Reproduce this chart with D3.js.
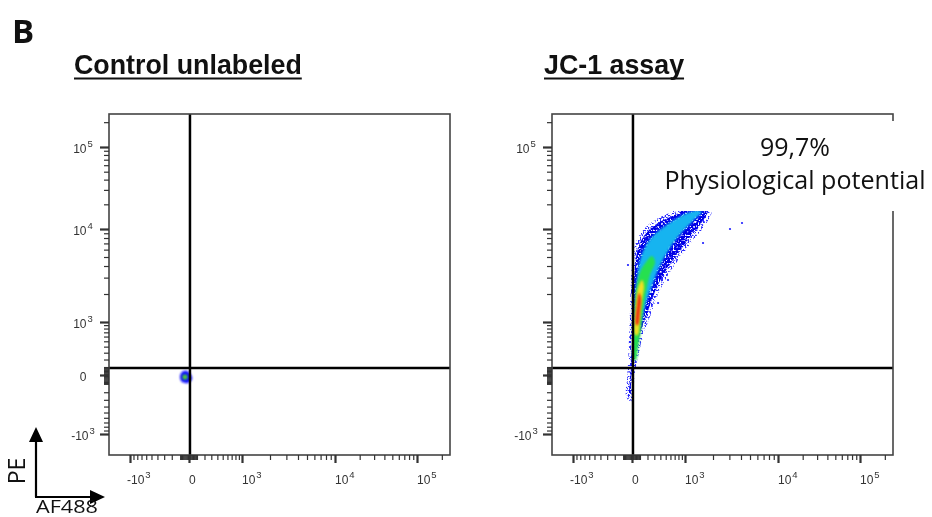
<!DOCTYPE html>
<html><head><meta charset="utf-8">
<script src="https://cdn.jsdelivr.net/npm/d3@7"></script>
<style>html,body{margin:0;padding:0;background:#fff;} svg{display:block;will-change:transform;}</style>
</head><body>
<svg id="chart" width="932" height="517"></svg>
<script>
// ---------------- DATA ----------------
const panelLetter = "B";
const panelTitles = ["Control unlabeled", "JC-1 assay"];
const xAxisName = "AF488";
const yAxisName = "PE";
const majorTickValues = [-1000, 0, 1000, 10000, 100000];
const majorTickBase   = ["-10", "0", "10", "10", "10"];
const majorTickExp    = ["3", "", "3", "4", "5"];
const linearMinorTicks = [10, 20, 30, 40, 50, 60, 70, 80, 90, 100, 200, 300, 400, 500, 600, 700, 800, 900];
const logMinorTicks = [2000, 3000, 4000, 5000, 6000, 7000, 8000, 9000,
                       20000, 30000, 40000, 50000, 60000, 70000, 80000, 90000, 200000];
const gateAF488 = 12;   // quadrant gate, x
const gatePE = 88;      // quadrant gate, y
const rightPanelYLabels = [-1000, 100000];
const annotationPct = "99,7%";
const annotationText = "Physiological potential";

// JC-1 population, density contours, [AF488, PE]
const jc1Sparse = [[-22,-331],[-68,-235],[-56,-56],[-45,127],[-34,528],[-22,1346],[-11,2829],[12,5250],
  [62,7620],[166,10280],[311,12880],[528,15240],[766,17540],[1132,22600],[1950,22600],[1950,16100],
  [1563,10280],[1219,7620],[909,5250],[665,3900],[488,2829],[394,2207],[295,1524],[235,1132],
  [166,766],[127,528],[88,311],[62,166],[38,38],[25,-113],[12,-275]];
const jc1Medium = [[12,62],[12,766],[25,2207],[62,4420],[140,6730],[264,9060],[449,11500],[714,14420],
  [1077,17060],[1449,18030],[1640,16100],[1312,12170],[1000,9060],[714,6730],[528,4880],[394,3450],
  [295,2320],[207,1524],[153,1052],[100,572],[62,264],[38,88]];
const jc1High = [[25,193],[25,1052],[50,2207],[100,3450],[180,4420],[264,5130],[311,4420],[235,3200],
  [180,2100],[140,1346],[114,766],[75,377],[50,193]];
const jc1Higher = [[38,641],[50,1524],[75,2320],[127,2829],[153,2440],[127,1726],[100,1104],[75,641]];
const jc1Peak = [[50,909],[62,1524],[88,2050],[114,1810],[100,1282],[75,909]];
const jc1Outliers = [[3047,10000],[4102,11830],[1563,7070],[547,2829],[-45,4100],[361,1600]];

// Control unlabeled population
const ctrlSparse = [[-102,-22],[-79,38],[-22,50],[25,0],[38,-45],[-11,-90],[-79,-79]];
const ctrlHigh = [[-68,0],[-22,0],[-22,-45],[-68,-45]];

// ---------------- SCALES ----------------
const LIN_C = 400, LIN_MAX = 1000;
function tf(v) {
  const a = Math.abs(v);
  if (a <= LIN_MAX) return Math.sign(v) * Math.asinh(a / LIN_C) / Math.asinh(LIN_MAX / LIN_C);
  return Math.sign(v) * (Math.log10(a) - 2);
}
const T_ANCHORS = [-1.36, -1, 0, 1, 2, 3, 3.4];
const FRAC = [0, 21, 80, 133, 226, 308, 341].map(p => p / 341);
const W = 341, H = 341, Y0 = 114;

const svg = d3.select("#chart");
const defs = svg.append("defs");
defs.html(`
 <filter id="grainSparse" filterUnits="userSpaceOnUse" x="0" y="0" width="932" height="517">
   <feTurbulence type="fractalNoise" baseFrequency="0.6" numOctaves="1" seed="3" result="n"/>
   <feColorMatrix in="n" type="matrix" values="0 0 0 0 0  0 0 0 0 0  0 0 0 0 0  9 0 0 0 -4.5" result="m"/>
   <feComposite in="SourceGraphic" in2="m" operator="in"/>
 </filter>
 <filter id="grainDense" filterUnits="userSpaceOnUse" x="0" y="0" width="932" height="517">
   <feMorphology in="SourceGraphic" operator="erode" radius="3" result="e"/>
   <feTurbulence type="fractalNoise" baseFrequency="0.6" numOctaves="1" seed="11" result="n"/>
   <feColorMatrix in="n" type="matrix" values="0 0 0 0 0  0 0 0 0 0  0 0 0 0 0  9 0 0 0 -3.3" result="m"/>
   <feComposite in="e" in2="m" operator="in"/>
 </filter>
 <filter id="core" filterUnits="userSpaceOnUse" x="0" y="0" width="932" height="517">
   <feMorphology in="SourceGraphic" operator="erode" radius="1.5" result="e"/>
   <feGaussianBlur in="e" stdDeviation="0.9"/>
 </filter>
 <filter id="soft" filterUnits="userSpaceOnUse" x="0" y="0" width="932" height="517">
   <feGaussianBlur stdDeviation="0.8"/>
 </filter>`);

const panels = [
  { x0: 109, tx: 74, title: panelTitles[0], layers: [
      { pts: ctrlSparse, fill: "#1010ff", f: "soft" },
      { pts: ctrlHigh, fill: "#50d030", f: "soft" } ], outliers: [], yLabels: majorTickValues },
  { x0: 552, tx: 544, title: panelTitles[1], layers: [
      { pts: jc1Sparse, fill: "#2a2aff", f: "grainSparse" },
      { pts: jc1Sparse, fill: "#0000e6", f: "grainDense" },
      { pts: jc1Medium, fill: "#12b4f0", f: "core" },
      { pts: jc1High, fill: "#28e050", f: "soft" },
      { pts: jc1Higher, fill: "#f0e020", f: "soft" },
      { pts: jc1Peak, fill: "#f03010", f: "soft" } ], outliers: jc1Outliers, yLabels: rightPanelYLabels }
];

const tickFont = "'Liberation Sans', Arial, sans-serif";

panels.forEach((p, i) => {
  const xs = d3.scaleLinear().domain(T_ANCHORS).range(FRAC.map(f => p.x0 + f * W));
  const ys = d3.scaleLinear().domain(T_ANCHORS).range(FRAC.map(f => Y0 + H - f * H));
  const g = svg.append("g");
  const clipId = "clip" + i;
  defs.append("clipPath").attr("id", clipId).append("rect")
    .attr("x", p.x0).attr("y", Y0).attr("width", W).attr("height", H);

  const line = d3.line().x(d => xs(tf(d[0]))).y(d => ys(tf(d[1])))
    .curve(d3.curveCatmullRomClosed.alpha(0.5));
  const pop = g.append("g").attr("clip-path", `url(#${clipId})`);
  p.layers.forEach(L => {
    pop.append("path").attr("d", line(L.pts)).attr("fill", L.fill).attr("filter", `url(#${L.f})`);
  });
  pop.selectAll("circle.out").data(p.outliers).join("circle").attr("class", "out")
    .attr("cx", d => xs(tf(d[0]))).attr("cy", d => ys(tf(d[1]))).attr("r", 1.1).attr("fill", "#2020ff");

  // gate lines
  g.append("line").attr("x1", xs(tf(gateAF488))).attr("x2", xs(tf(gateAF488)))
    .attr("y1", Y0).attr("y2", Y0 + H).attr("stroke", "#000").attr("stroke-width", 2.5);
  g.append("line").attr("x1", p.x0).attr("x2", p.x0 + W)
    .attr("y1", ys(tf(gatePE))).attr("y2", ys(tf(gatePE))).attr("stroke", "#000").attr("stroke-width", 2.5);

  // frame
  g.append("rect").attr("x", p.x0).attr("y", Y0).attr("width", W).attr("height", H)
    .attr("fill", "none").attr("stroke", "#444").attr("stroke-width", 1.6);

  // axes
  const minorVals = linearMinorTicks.concat(linearMinorTicks.map(v => -v)).concat(logMinorTicks).map(tf);
  const majorVals = majorTickValues.map(tf);
  const styleAxis = (sel, w) => { sel.select(".domain").remove();
    sel.selectAll(".tick line").attr("stroke", "#333").attr("stroke-width", w); };
  g.append("g").attr("transform", `translate(0,${Y0 + H})`)
    .call(d3.axisBottom(xs).tickValues(minorVals).tickSize(5).tickFormat(""))
    .call(s => styleAxis(s, 1.2));
  g.append("g").attr("transform", `translate(0,${Y0 + H})`)
    .call(d3.axisBottom(xs).tickValues(majorVals).tickSize(8).tickFormat(""))
    .call(s => styleAxis(s, 2.2));
  g.append("g").attr("transform", `translate(${p.x0},0)`)
    .call(d3.axisLeft(ys).tickValues(minorVals).tickSize(5).tickFormat(""))
    .call(s => styleAxis(s, 1.2));
  g.append("g").attr("transform", `translate(${p.x0},0)`)
    .call(d3.axisLeft(ys).tickValues(majorVals).tickSize(9).tickFormat(""))
    .call(s => styleAxis(s, 2.2));

  // x tick labels
  majorTickValues.forEach((v, j) => {
    const t = g.append("text").attr("x", xs(tf(v)) + (v < 0 ? -3 : 0)).attr("y", 484)
      .attr("font-family", tickFont).attr("font-size", 12).attr("fill", "#333");
    t.append("tspan").text(majorTickBase[j]);
    if (majorTickExp[j]) t.append("tspan").attr("dy", -6).attr("dx", 1).attr("font-size", 9.5).text(majorTickExp[j]);
  });
  // y tick labels
  majorTickValues.forEach((v, j) => {
    if (!p.yLabels.includes(v)) return;
    const t = g.append("text").attr("x", p.x0 - 26).attr("y", ys(tf(v)) + 6)
      .attr("text-anchor", "middle")
      .attr("font-family", tickFont).attr("font-size", 12).attr("fill", "#333");
    t.append("tspan").text(majorTickBase[j]);
    if (majorTickExp[j]) t.append("tspan").attr("dy", -6).attr("dx", 1).attr("font-size", 9.5).text(majorTickExp[j]);
  });

  // title
  const title = svg.append("text").attr("x", p.tx).attr("y", 74)
    .attr("font-family", "'Liberation Sans', Arial, sans-serif").attr("font-weight", "bold")
    .attr("font-size", 26.8).attr("fill", "#111").text(p.title);
  const tw = title.node().getComputedTextLength();
  svg.append("line").attr("x1", p.tx).attr("x2", p.tx + tw).attr("y1", 78.5).attr("y2", 78.5)
    .attr("stroke", "#111").attr("stroke-width", 2);
});

// annotation box (covers part of the right panel)
svg.append("rect").attr("x", 640).attr("y", 121).attr("width", 292).attr("height", 90).attr("fill", "#fff");
svg.append("text").attr("x", 795).attr("y", 156).attr("text-anchor", "middle")
  .attr("font-family", "'Open Sans', sans-serif").attr("font-size", 25).attr("fill", "#111")
  .attr("textLength", 70).attr("lengthAdjust", "spacingAndGlyphs").text(annotationPct);
svg.append("text").attr("x", 795).attr("y", 189).attr("text-anchor", "middle")
  .attr("font-family", "'Open Sans', sans-serif").attr("font-size", 25).attr("fill", "#111")
  .attr("textLength", 261).attr("lengthAdjust", "spacingAndGlyphs").text(annotationText);

// panel letter
svg.append("text").attr("x", 12).attr("y", 43).attr("font-family", "'Open Sans', sans-serif")
  .attr("font-weight", "bold").attr("font-size", 33).attr("fill", "#111").text(panelLetter);

// axis-name arrows
const ar = svg.append("g").attr("stroke", "#000").attr("fill", "#000");
ar.append("line").attr("x1", 36).attr("y1", 497).attr("x2", 36).attr("y2", 440).attr("stroke-width", 2.2);
ar.append("path").attr("d", "M36,427 L29,442 L43,442 Z").attr("stroke", "none");
ar.append("line").attr("x1", 35).attr("y1", 497).attr("x2", 92).attr("y2", 497).attr("stroke-width", 2.2);
ar.append("path").attr("d", "M105,497 L90,490 L90,504 Z").attr("stroke", "none");
svg.append("text").attr("transform", "translate(25,471) rotate(-90)").attr("text-anchor", "middle")
  .attr("font-family", "'Open Sans', sans-serif").attr("font-size", 23).attr("fill", "#111").text(yAxisName);
svg.append("text").attr("x", 36).attr("y", 512.5)
  .attr("font-family", "'Open Sans', sans-serif").attr("font-size", 17.5).attr("fill", "#111")
  .attr("textLength", 62).attr("lengthAdjust", "spacingAndGlyphs").text(xAxisName);
</script>
</body></html>
